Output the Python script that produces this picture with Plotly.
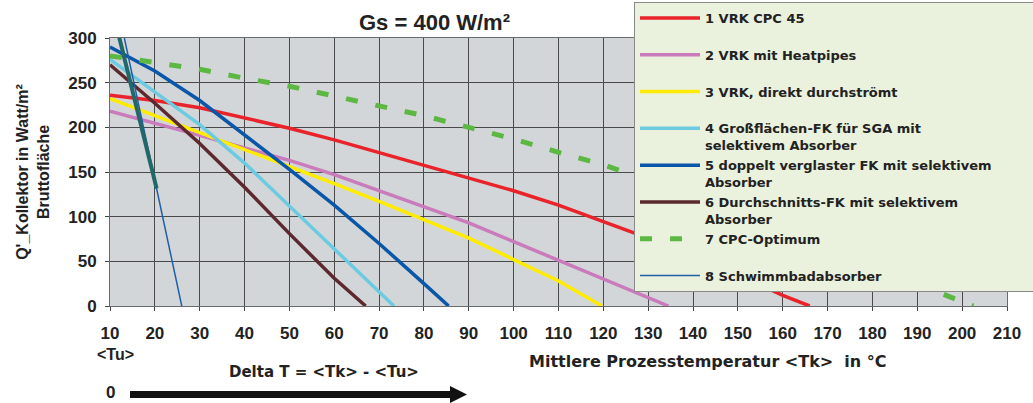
import plotly.graph_objects as go

# ---- data ----
x1 = [10, 20, 30, 40, 50, 60, 70, 80, 90, 100, 110, 120, 130, 140, 150, 160, 166]
y1 = [236, 230, 222, 211, 199, 186, 172, 158, 144, 129, 113, 95, 76, 56, 35, 12, 0]
x2 = [10, 20, 30, 40, 50, 60, 70, 80, 90, 100, 110, 120, 130, 134.5]
y2 = [218, 205, 191, 177, 163, 147, 129, 111, 93, 72, 51, 30, 9, 0]
x3 = [10, 20, 30, 40, 50, 60, 70, 80, 90, 100, 110, 119.7]
y3 = [232, 213, 195, 176, 157, 137, 117, 96, 76, 52, 28, 0]
x4 = [10, 20, 30, 40, 50, 60, 70, 73.3]
y4 = [276, 240, 203, 160, 112, 64, 16, 0]
x5 = [10, 20, 30, 40, 50, 60, 70, 80, 85.5]
y5 = [290, 263, 230, 192, 153, 113, 70, 25, 0]
x6 = [10, 20, 30, 40, 50, 60, 67]
y6 = [270, 227, 182, 133, 81, 31, 0]
x7 = [10, 20, 30, 40, 50, 60, 70, 80, 90, 100, 110, 120, 130, 140, 150, 160, 170, 180, 190, 202.5]
y7 = [280, 272, 265, 255, 246, 235, 224, 213, 200, 187, 172, 158, 141, 122, 103, 84, 64, 44, 24, 0]
x8 = [13.2, 20.4, 26.0]
y8 = [300, 131.5, 0]
x9 = [11.6, 20.4]
y9 = [310, 131.5]

NB = "&nbsp;"
names = [
    "1 VRK CPC 45<br>" + NB,
    "2 VRK mit Heatpipes<br>" + NB,
    "3 VRK, direkt durchströmt<br>" + NB,
    "4 Großflächen-FK für SGA mit<br>selektivem Absorber",
    "5 doppelt verglaster FK mit selektivem" + NB * 8 + "<br>Absorber",
    "6 Durchschnitts-FK mit selektivem<br>Absorber",
    "7 CPC-Optimum<br>" + NB,
    "8 Schwimmbadabsorber",
]
colors = ["#e8242a", "#c97bbb", "#ffec00", "#6ccbe0", "#0a56a8", "#5c2a2e", "#5db843", "#1f5fa8"]
widths = [3.5, 3.5, 3.5, 3.5, 3.5, 3.5, 5, 1.5]
dashes = ["solid"] * 6 + ["12px,18px", "solid"]

xs = [x1, x2, x3, x4, x5, x6, x7, x8]
ys = [y1, y2, y3, y4, y5, y6, y7, y8]

x_ticks = list(range(10, 211, 10))
y_ticks = list(range(0, 301, 50))

fig = go.Figure()
for xv, yv, nm, c, w, d in zip(xs, ys, names, colors, widths, dashes):
    fig.add_trace(go.Scatter(x=xv, y=yv, mode="lines", name=nm,
                             line=dict(color=c, width=w, dash=d)))
fig.add_trace(go.Scatter(x=x9, y=y9, mode="lines", showlegend=False,
                         line=dict(color="#22686a", width=4)))

BASE = "Liberation Sans"
WIDE = "DejaVu Sans"
W, H = 1033, 403
L, R, T, B = 110, 26, 38, 97
pw, ph = W - L - R, H - T - B

def px(xp):
    return (xp - L) / pw

def py(yp):
    return (H - B - yp) / ph

fig.update_layout(
    width=W, height=H,
    margin=dict(l=L, r=R, t=T, b=B, autoexpand=False),
    paper_bgcolor="white",
    plot_bgcolor="#d3d6d9",
    font=dict(family=BASE, size=16, color="#222222", weight="bold"),
    legend=dict(x=px(634), y=py(2), xanchor="left", yanchor="top",
                bgcolor="#eaf1dc", bordercolor="#8a8a8a", borderwidth=1,
                font=dict(family=WIDE, size=13, color="#222222", weight="bold"),
                valign="top", itemwidth=60, tracegroupgap=0, maxheight=400),
    showlegend=True,
)
fig.update_xaxes(range=[10, 210], tickvals=x_ticks, showgrid=True, gridcolor="#4a4a4a", gridwidth=1,
                 showline=True, linecolor="#6a6a6a", linewidth=1, mirror=True,
                 ticks="outside", ticklen=4, tickcolor="#444444", zeroline=False,
                 tickfont=dict(family=BASE, size=17, weight="bold", color="#222222"),
                 ticklabelstandoff=8)
fig.update_yaxes(range=[0, 300], tickvals=y_ticks, showgrid=True, gridcolor="#4a4a4a", gridwidth=1,
                 showline=True, linecolor="#6a6a6a", linewidth=1, mirror=True,
                 ticks="outside", ticklen=4, tickcolor="#444444", zeroline=False,
                 tickfont=dict(family=BASE, size=17, weight="bold", color="#222222"),
                 ticklabelstandoff=5,
                 title=dict(text="Q'_Kollektor in Watt/m²<br>Bruttofläche",
                            font=dict(family=BASE, size=16, weight="bold", color="#222222"),
                            standoff=14))

ann = [
    dict(text="Gs = 400 W/m²", x=px(434), y=py(23), xanchor="center", yanchor="middle",
         font=dict(family=BASE, size=22, weight="bold", color="#222222")),
    dict(text="Mittlere Prozesstemperatur &lt;Tk&gt;  in °C", x=px(527), y=py(361),
         xanchor="left", yanchor="middle",
         font=dict(family=WIDE, size=16, weight="bold", color="#222222")),
    dict(text="&lt;Tu&gt;", x=px(115), y=py(354), xanchor="center", yanchor="middle",
         font=dict(family=BASE, size=16, weight="bold", color="#222222")),
    dict(text="Delta T = &lt;Tk&gt; - &lt;Tu&gt;", x=px(227), y=py(372), xanchor="left", yanchor="middle",
         font=dict(family=WIDE, size=15, weight="bold", color="#222222")),
    dict(text="0", x=px(110), y=py(392), xanchor="center", yanchor="middle",
         font=dict(family=BASE, size=17, weight="bold", color="#222222")),
]
for a in ann:
    a.update(xref="paper", yref="paper", showarrow=False)
fig.update_layout(annotations=ann)

fig.update_layout(shapes=[
    dict(type="line", xref="paper", yref="paper", x0=px(130), x1=px(452), y0=py(394.5), y1=py(394.5),
         line=dict(color="#111111", width=7)),
    dict(type="path", xref="paper", yref="paper",
         path=f"M {px(450)},{py(386)} L {px(467)},{py(394.5)} L {px(450)},{py(403)} Z",
         fillcolor="#111111", line=dict(color="#111111", width=0)),
])

fig.write_html("out.html", config={"displayModeBar": False},
               post_script="document.body.style.margin='0';document.body.style.overflow='hidden';")
